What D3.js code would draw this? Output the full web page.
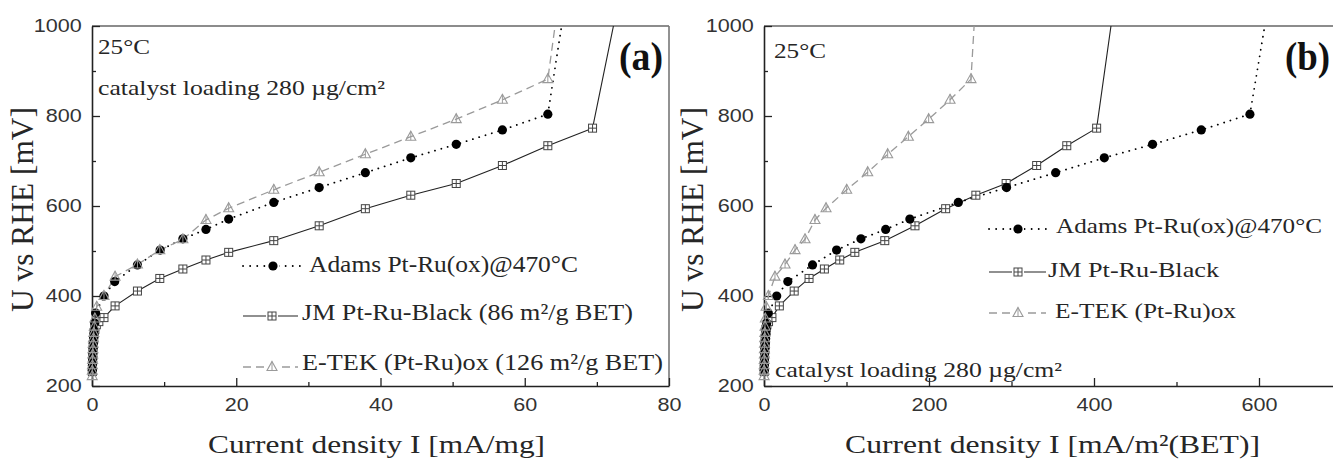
<!DOCTYPE html>
<html><head><meta charset="utf-8">
<script src="https://cdn.jsdelivr.net/npm/d3@7/dist/d3.min.js"></script>
<style>body{margin:0;background:#fff}</style>
</head><body>
<svg id="c" width="1333" height="460" xmlns="http://www.w3.org/2000/svg"></svg>
<script>
// ---------- data ----------
const xTicksA = [0, 20, 40, 60, 80];
const xMinorA = [10, 30, 50, 70];
const xTicksB = [0, 200, 400, 600];
const xMinorB = [100, 300, 500, 700];
const yTicks = [200, 400, 600, 800, 1000];
const yMinor = [300, 500, 700, 900];

// potentials (mV) shared by both panels
const adamsVolt = [235, 245, 255, 265, 275, 285, 295, 305, 315, 325, 340, 362, 400, 432, 469, 502, 527, 548, 571, 608, 641, 674, 707, 737, 769, 804, 1020];
const adamsCurrA = [0.04, 0.05, 0.07, 0.09, 0.11, 0.14, 0.17, 0.21, 0.25, 0.3, 0.36, 0.5, 1.66, 3.15, 6.3, 9.45, 12.6, 15.8, 18.95, 25.2, 31.5, 37.9, 44.2, 50.5, 56.9, 63.2, 65.3];
const adamsCurrB = [0.3, 0.4, 0.6, 0.8, 1.0, 1.3, 1.6, 2.0, 2.4, 2.8, 3.4, 5.2, 15.4, 28.9, 58.8, 88, 117.5, 147.5, 176.8, 235.5, 294, 353.5, 412.5, 471, 530, 589, 608.8];

const jmVolt = [232, 244, 256, 268, 280, 292, 304, 316, 326, 336, 343, 352, 378, 411, 439, 460, 480, 497, 523, 556, 594, 624, 650, 690, 734, 773, 1020];
const jmCurrA = [0.05, 0.07, 0.09, 0.12, 0.15, 0.19, 0.24, 0.3, 0.4, 0.6, 0.95, 1.66, 3.2, 6.3, 9.4, 12.6, 15.8, 18.95, 25.2, 31.5, 37.9, 44.2, 50.5, 56.9, 63.2, 69.4, 72.55];
const jmCurrB = [0.3, 0.4, 0.5, 0.7, 0.9, 1.1, 1.4, 1.7, 2.3, 3.5, 5.5, 9.6, 18.6, 36.6, 54.6, 73.2, 91.8, 110.1, 146.4, 183, 220.2, 256.8, 293.5, 330.5, 367, 403.2, 422.1];

const etekVolt = [222, 234, 246, 258, 270, 282, 294, 306, 318, 332, 350, 376, 400, 443, 470, 502, 526, 569, 595, 636, 675, 715, 754, 793, 836, 882, 1020];
const etekCurrA = [0.03, 0.04, 0.06, 0.08, 0.1, 0.13, 0.16, 0.2, 0.25, 0.31, 0.4, 0.65, 1.66, 3.2, 6.3, 9.4, 12.6, 15.8, 18.95, 25.2, 31.5, 37.9, 44.2, 50.5, 56.9, 63.2, 64.37];
const etekCurrB = [0.1, 0.15, 0.2, 0.3, 0.4, 0.5, 0.6, 0.8, 1.0, 1.2, 1.6, 2.6, 5.3, 13.3, 25.5, 37.6, 49.7, 61.8, 75.2, 100.2, 125.7, 149.9, 175, 199.6, 225.5, 250.9, 255.3];

const legendA = ["Adams Pt-Ru(ox)@470°C", "JM Pt-Ru-Black (86 m²/g BET)", "E-TEK (Pt-Ru)ox (126 m²/g BET)"];
const legendB = ["Adams Pt-Ru(ox)@470°C", "JM Pt-Ru-Black", "E-TEK (Pt-Ru)ox"];
const yTitle = "U vs RHE [mV]";
const xTitleA = "Current density I [mA/mg]";
const xTitleB = "Current density I [mA/m²(BET)]";
const tempLabel = "25°C";
const loadLabel = "catalyst loading 280 µg/cm²";

// ---------- drawing ----------
const svg = d3.select("#c");
const SERIF = "Liberation Serif";
const SANS = "Liberation Sans";
const TXT = "#262626";

function txt(parent, s, x, y, size, len, opts = {}) {
  const t = parent.append("text").attr("x", x).attr("y", y)
    .attr("font-family", opts.family || SERIF).attr("font-size", size)
    .attr("fill", opts.fill || TXT).text(s);
  if (len) t.attr("textLength", len).attr("lengthAdjust", "spacingAndGlyphs");
  if (opts.weight) t.attr("font-weight", opts.weight);
  if (opts.anchor) t.attr("text-anchor", opts.anchor);
  return t;
}

function marker(g, type, cx, cy) {
  const m = g.append("g").attr("transform", `translate(${cx},${cy})`);
  if (type === "circle") {
    m.append("circle").attr("r", 4.6).attr("fill", "#000");
  } else if (type === "square") {
    m.append("rect").attr("x", -4).attr("y", -4).attr("width", 8).attr("height", 8)
      .attr("fill", "#fff").attr("stroke", "#444").attr("stroke-width", 1);
    m.append("path").attr("d", "M0,-4V4M-4,0H4").attr("stroke", "#444").attr("stroke-width", 1);
  } else {
    m.append("path").attr("d", "M0,-5.5L5,3.5L-5,3.5Z").attr("fill", "none")
      .attr("stroke", "#9a9a9a").attr("stroke-width", 1.1);
    m.append("path").attr("d", "M0,-5.5V3.5").attr("stroke", "#9a9a9a").attr("stroke-width", 1);
  }
}

const styles = {
  adams: { stroke: "#000", width: 1.8, dash: "0.1,6.5", cap: "round", marker: "circle" },
  jm: { stroke: "#222", width: 1.1, dash: null, cap: "butt", marker: "square" },
  etek: { stroke: "#9a9a9a", width: 1.3, dash: "8,5", cap: "butt", marker: "triangle" }
};

function drawPanel(p) {
  const x = d3.scaleLinear().domain(p.xDomain).range([p.left, p.right]);
  const y = d3.scaleLinear().domain([200, 1000]).range([386, 26]);
  const g = svg.append("g");
  const clipId = "clip" + p.id;
  svg.append("clipPath").attr("id", clipId).append("rect")
    .attr("x", p.left - 12).attr("y", 26).attr("width", p.clipRight - p.left + 12).attr("height", 380);

  // frame (top & right)
  g.append("line").attr("x1", p.left).attr("x2", p.frameRight).attr("y1", 26).attr("y2", 26)
    .attr("stroke", "#666").attr("stroke-width", 1.6);
  if (p.showRight) {
    g.append("line").attr("x1", p.right).attr("x2", p.right).attr("y1", 26).attr("y2", 386)
      .attr("stroke", "#777").attr("stroke-width", 1.6);
  }

  // axes
  const styleAxis = sel => {
    sel.selectAll("line").attr("stroke", "#222").attr("stroke-width", 1.3);
    sel.selectAll("path.domain").attr("stroke", "#222").attr("stroke-width", 1.6);
    sel.selectAll("text").attr("font-family", SANS).attr("font-size", 18).attr("fill", "#333")
      .attr("transform", "scale(1.2,1)");
  };
  g.append("g").attr("transform", "translate(0,386)")
    .call(d3.axisBottom(x).tickValues(p.xMinor).tickSize(-4).tickFormat(""))
    .call(s => s.select(".domain").remove()).call(styleAxis);
  g.append("g").attr("transform", `translate(${p.left},0)`)
    .call(d3.axisLeft(y).tickValues(yMinor).tickSize(-4).tickFormat(""))
    .call(s => s.select(".domain").remove()).call(styleAxis);
  g.append("g").attr("transform", "translate(0,386)")
    .call(d3.axisBottom(x).tickValues(p.xTicks).tickSize(-8).tickSizeOuter(0).tickPadding(12).tickFormat(d3.format("d")))
    .call(styleAxis);
  g.append("g").attr("transform", `translate(${p.left},0)`)
    .call(d3.axisLeft(y).tickValues(yTicks).tickSize(-8).tickSizeOuter(0).tickPadding(8.5).tickFormat(d3.format("d")))
    .call(styleAxis);

  // series
  const plot = g.append("g").attr("clip-path", `url(#${clipId})`);
  const line = d3.line().x(d => x(d[0])).y(d => y(d[1]));
  p.series.forEach(s => {
    const st = styles[s.key];
    const pts = s.cur.map((c, i) => [c, s.volt[i]]);
    const path = plot.append("path").datum(pts).attr("d", line).attr("fill", "none")
      .attr("stroke", st.stroke).attr("stroke-width", st.width).attr("stroke-linecap", st.cap)
      .attr("stroke-linejoin", "round");
    if (st.dash) path.attr("stroke-dasharray", st.dash);
  });
  p.series.forEach(s => {
    const st = styles[s.key];
    s.cur.forEach((c, i) => marker(plot, st.marker, x(c), y(s.volt[i])));
  });

  // legend
  p.legend.forEach((l, i) => {
    const st = styles[l.key];
    const ln = g.append("line").attr("x1", l.lx1).attr("x2", l.lx2).attr("y1", l.my).attr("y2", l.my)
      .attr("stroke", st.stroke).attr("stroke-width", st.width).attr("stroke-linecap", st.cap);
    if (st.dash) ln.attr("stroke-dasharray", st.dash);
    if (l.key === "adams") ln.attr("stroke-dasharray", "0.1,7");
    g.append("rect").attr("x", l.mx - 6).attr("y", l.my - 6).attr("width", 12).attr("height", 12).attr("fill", "#fff");
    marker(g, st.marker, l.mx, l.my);
    txt(g, l.text, l.tx, l.ty, p.legendSize, l.len);
  });

  // annotations
  p.notes.forEach(n => txt(g, n.text, n.x, n.y, n.size, n.len, n.opts || {}));

  // titles
  txt(g, p.xTitle, p.xtX, 453, 26, p.xtLen);
  g.append("text").attr("transform", `translate(${p.ytX},209.5) scale(1.2,1) rotate(-90)`)
    .attr("text-anchor", "middle").attr("font-family", SERIF).attr("font-size", 26).attr("fill", TXT)
    .attr("textLength", 205).attr("lengthAdjust", "spacingAndGlyphs").text(yTitle);
}

drawPanel({
  id: "a", left: 92, right: 669, clipRight: 669, frameRight: 669, showRight: true,
  xDomain: [0, 80], xTicks: xTicksA, xMinor: xMinorA,
  series: [
    { key: "jm", cur: jmCurrA, volt: jmVolt },
    { key: "adams", cur: adamsCurrA, volt: adamsVolt },
    { key: "etek", cur: etekCurrA, volt: etekVolt }
  ],
  legendSize: 23,
  legend: [
    { key: "adams", text: legendA[0], lx1: 243, lx2: 303, mx: 273, my: 266, tx: 309, ty: 272, len: 269 },
    { key: "jm", text: legendA[1], lx1: 243, lx2: 298, mx: 272, my: 316, tx: 302, ty: 320, len: 331 },
    { key: "etek", text: legendA[2], lx1: 243, lx2: 298, mx: 272, my: 367, tx: 302, ty: 370, len: 361 }
  ],
  notes: [
    { text: tempLabel, x: 98, y: 54, size: 21, len: 52 },
    { text: loadLabel, x: 98, y: 95, size: 21, len: 287 },
    { text: "(a)", x: 619, y: 70, size: 40, len: 44, opts: { weight: "bold", fill: "#111" } }
  ],
  xTitle: xTitleA, xtX: 208, xtLen: 337, ytX: 33
});

drawPanel({
  id: "b", left: 764, right: 1341.5, clipRight: 1333, frameRight: 1333, showRight: false,
  xDomain: [0, 700], xTicks: xTicksB, xMinor: xMinorB,
  series: [
    { key: "jm", cur: jmCurrB, volt: jmVolt },
    { key: "adams", cur: adamsCurrB, volt: adamsVolt },
    { key: "etek", cur: etekCurrB, volt: etekVolt }
  ],
  legendSize: 22,
  legend: [
    { key: "adams", text: legendB[0], lx1: 989, lx2: 1046, mx: 1018, my: 229, tx: 1056, ty: 233, len: 266 },
    { key: "jm", text: legendB[1], lx1: 989, lx2: 1046, mx: 1018, my: 272, tx: 1048, ty: 277, len: 171 },
    { key: "etek", text: legendB[2], lx1: 989, lx2: 1046, mx: 1018, my: 313, tx: 1055, ty: 318, len: 181 }
  ],
  notes: [
    { text: tempLabel, x: 774, y: 58, size: 21, len: 52 },
    { text: loadLabel, x: 775, y: 377, size: 21, len: 287 },
    { text: "(b)", x: 1285, y: 70, size: 40, len: 45, opts: { weight: "bold", fill: "#111" } }
  ],
  xTitle: xTitleB, xtX: 845, xtLen: 415, ytX: 703
});
</script>
</body></html>
